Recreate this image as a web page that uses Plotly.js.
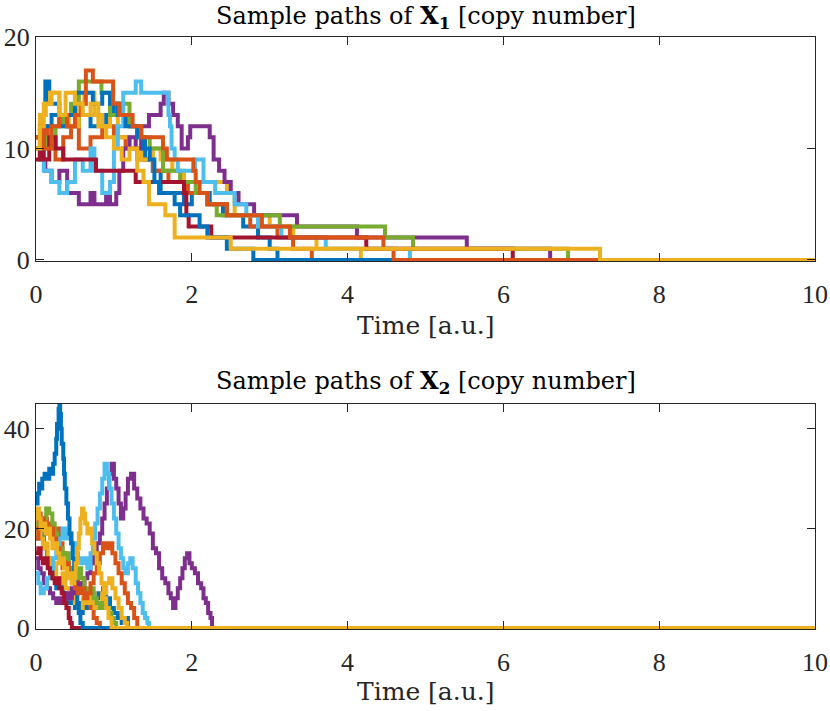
<!DOCTYPE html>
<html>
<head>
<meta charset="utf-8">
<script src="https://cdn.plot.ly/plotly-3.0.1.min.js"></script>
<style>html,body{margin:0;padding:0;background:#fff;}#chart{width:830px;height:711px;}</style>
</head>
<body>
<div id="chart"></div>
<script>
// MATLAB default colour order
const colorOrder = ['#0072BD','#D95319','#EDB120','#7E2F8E','#77AC30','#4DBEEE','#A2142F','#0072BD','#D95319','#EDB120'];

const xTicks = [0, 2, 4, 6, 8, 10];
const x1Ticks = [0, 10, 20];
const x2Ticks = [0, 20, 40];

// ---- Sample paths of X1: [time, copy number] step points ----
const x1_path1 = [[0,11],[0.06,13],[0.12,16],[0.17,14],[0.3,13],[0.4,12],[0.55,13],[0.7,12],[0.9,13],[1.0,14],[1.1,13],[1.2,12],[1.3,11],[1.4,9],[1.5,8],[1.6,6],[1.9,5],[2.0,6],[2.23,5],[2.4,4],[2.66,3],[2.85,2],[3.0,1],[3.1,0],[10,0]];
const x1_path2 = [[0,10],[0.08,12],[0.15,11],[0.25,9],[0.35,11],[0.45,12],[0.55,10],[0.7,11],[0.85,12],[1.0,11],[1.15,10],[1.3,9],[1.5,8],[1.7,7],[1.95,6],[2.2,5],[2.45,4],[2.75,3],[3.1,2],[3.3,1],[3.54,0],[10,0]];
const x1_path3 = [[0,10],[0.05,13],[0.12,14],[0.2,15],[0.3,13],[0.42,12],[0.55,14],[0.62,15],[0.75,13],[0.85,12],[0.95,13],[1.05,11],[1.2,10],[1.35,9],[1.5,10],[1.6,9],[1.75,8],[1.9,7],[2.2,7],[2.45,6],[2.55,4],[3.0,3],[3.3,2],[3.6,1],[4.17,0],[10,0]];
const x1_path4 = [[0,10],[0.05,9],[0.12,8],[0.2,7],[0.3,8],[0.4,6],[0.55,5],[0.7,6],[0.75,5],[0.9,6],[0.95,5],[1.03,6],[1.07,8],[1.12,10],[1.2,11],[1.28,10],[1.35,12],[1.45,13],[1.6,14],[1.64,15],[1.7,14],[1.76,13],[1.82,12],[1.87,10],[1.95,11],[1.98,12],[2.23,11],[2.28,9],[2.35,8],[2.42,7],[2.5,6],[2.6,5],[2.8,4],[3.35,3],[4.12,2],[5.53,1],[6.6,0],[10,0]];
const x1_path5 = [[0,10],[0.07,11],[0.15,10],[0.25,12],[0.35,13],[0.45,14],[0.55,16],[0.84,15],[0.95,13],[1.05,14],[1.2,12],[1.35,11],[1.46,10],[1.63,8],[1.85,7],[2.05,6],[2.2,5],[2.32,4],[3.13,3],[4.48,2],[4.84,1],[6.83,0],[10,0]];
const x1_path6 = [[0,10],[0.05,9],[0.1,8],[0.2,7],[0.3,6],[0.4,7],[0.5,9],[0.6,8],[0.7,10],[0.75,8],[0.85,6],[0.95,7],[1.0,10],[1.05,12],[1.12,15],[1.28,16],[1.35,15],[1.7,13],[1.72,12],[1.74,10],[1.78,9],[1.82,8],[2.04,9],[2.15,7],[2.3,6],[2.55,5],[2.7,4],[2.85,3],[3.15,2],[3.72,1],[4.8,0],[10,0]];
const x1_path7 = [[0,9],[0.05,10],[0.1,9],[0.17,11],[0.25,10],[0.35,9],[0.77,8],[1.28,7],[1.5,7],[1.9,6],[1.93,4],[1.96,3],[2.15,3],[2.25,2],[4.24,1],[6.12,0],[10,0]];
const x1_path8 = [[0,11],[0.05,10],[0.1,12],[0.2,13],[0.3,12],[0.4,13],[0.5,15],[0.73,14],[0.85,15],[0.95,14],[1.05,13],[1.15,12],[1.3,11],[1.38,10],[1.46,9],[1.52,7],[1.58,6],[1.78,5],[1.85,4],[2.1,3],[2.2,2],[2.45,1],[2.79,0],[10,0]];
const x1_path9 = [[0,11],[0.05,12],[0.1,10],[0.2,12],[0.3,13],[0.4,12],[0.5,13],[0.58,14],[0.64,17],[0.73,16],[0.99,14],[1.07,13],[1.24,12],[1.35,11],[1.63,10],[1.68,9],[2.02,8],[2.05,7],[2.1,6],[2.2,5],[2.45,4],[2.9,3],[3.26,2],[4.46,1],[4.59,0],[10,0]];
const x1_path10 = [[0,10],[0.05,12],[0.1,14],[0.18,15],[0.3,13],[0.38,15],[0.5,14],[0.6,13],[0.7,14],[0.8,12],[0.9,11],[1.0,10],[1.1,9],[1.2,10],[1.3,8],[1.38,7],[1.45,5],[1.66,4],[1.78,2],[2.5,1],[7.24,0],[10,0]];

// ---- Sample paths of X2: [time, copy number] step points ----
const x2_path1 = [[0,20],[0.03,18],[0.06,19],[0.1,16],[0.14,14],[0.18,12],[0.22,10],[0.26,8],[0.3,9],[0.35,7],[0.4,5],[0.45,6],[0.5,4],[0.55,3],[0.6,5],[0.65,4],[0.72,6],[0.8,7],[0.86,8],[0.9,6],[0.95,4],[1.0,3],[1.05,2],[1.1,1],[1.15,2],[1.18,0],[10,0]];
const x2_path2 = [[0,21],[0.03,23],[0.06,21],[0.1,22],[0.14,20],[0.18,21],[0.22,19],[0.26,20],[0.3,17],[0.34,15],[0.38,13],[0.42,11],[0.46,12],[0.5,10],[0.54,8],[0.58,9],[0.62,7],[0.66,5],[0.7,4],[0.74,2],[0.78,1],[0.82,0],[10,0]];
const x2_path3 = [[0,19],[0.03,21],[0.06,18],[0.09,16],[0.12,17],[0.15,14],[0.18,12],[0.22,13],[0.26,10],[0.3,9],[0.34,11],[0.38,8],[0.42,6],[0.46,7],[0.5,5],[0.55,4],[0.6,6],[0.65,5],[0.7,7],[0.75,4],[0.8,5],[0.85,7],[0.9,9],[0.94,10],[0.98,8],[1.02,6],[1.06,4],[1.1,2],[1.14,1],[1.17,0],[10,0]];
const x2_path4 = [[0,14],[0.03,12],[0.06,11],[0.1,9],[0.14,8],[0.18,7],[0.22,6],[0.26,5],[0.3,6],[0.34,5],[0.38,7],[0.42,6],[0.46,8],[0.5,7],[0.54,9],[0.58,8],[0.62,10],[0.66,11],[0.7,13],[0.74,15],[0.78,17],[0.82,19],[0.85,22],[0.88,25],[0.91,28],[0.94,31],[0.97,33],[1.0,30],[1.03,28],[1.06,25],[1.09,22],[1.12,24],[1.15,27],[1.18,30],[1.22,31],[1.26,28],[1.3,26],[1.34,24],[1.38,22],[1.42,21],[1.46,19],[1.5,16],[1.54,15],[1.58,12],[1.62,10],[1.66,9],[1.7,7],[1.73,6],[1.76,4],[1.79,6],[1.82,8],[1.85,10],[1.88,12],[1.91,14],[1.94,15],[1.97,13],[2.0,12],[2.04,11],[2.08,9],[2.12,8],[2.15,6],[2.18,5],[2.21,3],[2.24,2],[2.26,0],[10,0]];
const x2_path5 = [[0,20],[0.03,21],[0.06,20],[0.09,22],[0.13,24],[0.17,23],[0.21,21],[0.24,19],[0.27,17],[0.3,16],[0.34,14],[0.38,15],[0.42,12],[0.46,11],[0.5,10],[0.54,12],[0.58,10],[0.62,8],[0.66,7],[0.7,8],[0.74,6],[0.78,5],[0.82,4],[0.86,5],[0.9,4],[0.94,3],[0.97,2],[1.0,1],[1.03,0],[10,0]];
const x2_path6 = [[0,11],[0.03,9],[0.06,7],[0.1,8],[0.14,10],[0.18,12],[0.22,14],[0.26,16],[0.3,18],[0.34,20],[0.38,18],[0.42,19],[0.46,17],[0.5,15],[0.54,14],[0.58,13],[0.62,14],[0.66,12],[0.7,15],[0.73,18],[0.76,21],[0.79,24],[0.82,27],[0.85,30],[0.88,33],[0.91,31],[0.94,28],[0.97,25],[1.0,22],[1.03,19],[1.06,16],[1.09,14],[1.12,12],[1.15,11],[1.18,13],[1.21,14],[1.24,12],[1.28,9],[1.31,7],[1.34,5],[1.37,3],[1.4,2],[1.43,1],[1.45,0],[10,0]];
const x2_path7 = [[0,15],[0.03,16],[0.06,14],[0.09,13],[0.12,14],[0.15,12],[0.18,11],[0.21,10],[0.24,9],[0.27,10],[0.3,8],[0.33,7],[0.36,5],[0.39,4],[0.42,2],[0.44,1],[0.46,0],[10,0]];
const x2_path8 = [[0,25],[0.02,27],[0.04,29],[0.06,28],[0.08,30],[0.11,31],[0.14,30],[0.17,32],[0.2,31],[0.22,33],[0.24,35],[0.26,38],[0.27,41],[0.29,44],[0.3,45],[0.31,43],[0.32,40],[0.33,37],[0.35,34],[0.36,31],[0.37,28],[0.39,25],[0.41,22],[0.43,19],[0.45,17],[0.47,14],[0.49,11],[0.51,8],[0.53,5],[0.55,3],[0.57,1],[0.6,0],[10,0]];
const x2_path9 = [[0,18],[0.03,20],[0.06,22],[0.1,21],[0.14,19],[0.18,20],[0.22,18],[0.26,16],[0.3,14],[0.34,12],[0.38,13],[0.42,11],[0.46,9],[0.5,8],[0.54,7],[0.58,8],[0.62,6],[0.66,7],[0.7,9],[0.74,11],[0.78,13],[0.82,15],[0.86,17],[0.9,16],[0.94,17],[0.98,15],[1.02,13],[1.06,11],[1.1,9],[1.14,7],[1.18,5],[1.22,4],[1.26,2],[1.3,0],[10,0]];
const x2_path10 = [[0,22],[0.02,24],[0.04,22],[0.06,20],[0.09,21],[0.12,19],[0.15,20],[0.18,18],[0.21,16],[0.24,17],[0.27,15],[0.3,13],[0.33,14],[0.36,12],[0.4,10],[0.43,11],[0.46,9],[0.49,10],[0.51,13],[0.53,16],[0.55,19],[0.57,22],[0.59,24],[0.61,23],[0.63,21],[0.66,19],[0.69,20],[0.72,17],[0.75,15],[0.78,13],[0.81,11],[0.84,9],[0.87,6],[0.9,4],[0.93,2],[0.97,0],[10,0]];

const x1Paths = [x1_path1,x1_path2,x1_path3,x1_path4,x1_path5,x1_path6,x1_path7,x1_path8,x1_path9,x1_path10];
const x2Paths = [x2_path1,x2_path2,x2_path3,x2_path4,x2_path5,x2_path6,x2_path7,x2_path8,x2_path9,x2_path10];

const FONT = 'DejaVu Serif, Liberation Serif, serif';
const TICKFONT = 'Liberation Serif, DejaVu Serif, serif';
const AX = '#262626';
const LW = 4;

const traces = [];
x1Paths.forEach((p, i) => traces.push({
  type: 'scatter', mode: 'lines', x: p.map(d => d[0]), y: p.map(d => d[1]),
  xaxis: 'x', yaxis: 'y', line: {color: colorOrder[i], width: LW, shape: 'hv'}, showlegend: false, hoverinfo: 'skip'
}));
x2Paths.forEach((p, i) => traces.push({
  type: 'scatter', mode: 'lines', x: p.map(d => d[0]), y: p.map(d => d[1]),
  xaxis: 'x2', yaxis: 'y2', line: {color: colorOrder[i], width: LW, shape: 'hv'}, showlegend: false, hoverinfo: 'skip'
}));

function xAxis(anchor) {
  return {anchor: anchor, domain: [0, 1], range: [0, 10], tickvals: xTicks, ticktext: xTicks.map(String),
    ticks: 'inside', ticklen: 8, tickwidth: 1, tickcolor: AX, showline: true, linecolor: AX, linewidth: 1,
    mirror: 'ticks', showgrid: false, zeroline: false, tickfont: {family: TICKFONT, size: 26, color: '#262626'},
    ticklabelstandoff: 10};
}
function yAxis(anchor, range, ticks, domain) {
  return {anchor: anchor, domain: domain, range: range, tickvals: ticks, ticktext: ticks.map(String),
    ticks: 'inside', ticklen: 8, tickwidth: 1, tickcolor: AX, showline: true, linecolor: AX, linewidth: 1,
    mirror: 'ticks', showgrid: false, zeroline: false, tickfont: {family: TICKFONT, size: 26, color: '#262626'},
    ticklabelstandoff: 0};
}

const layout = {
  width: 830, height: 711,
  margin: {l: 36, r: 15, t: 37, b: 82},
  paper_bgcolor: '#fff', plot_bgcolor: '#fff',
  showlegend: false,
  xaxis: xAxis('y'),
  yaxis: yAxis('x', [-0.1, 20], x1Ticks, [0.6216, 1]),
  xaxis2: xAxis('y2'),
  yaxis2: yAxis('x2', [-0.2, 45], x2Ticks, [0, 0.3801]),
  annotations: [
    {xref: 'paper', yref: 'paper', x: 0.5, y: 1.034, xanchor: 'center', yanchor: 'middle', showarrow: false,
     text: 'Sample paths of <b>X<sub>1</sub></b> [copy number]', font: {family: FONT, size: 24, color: '#000'}},
    {xref: 'paper', yref: 'paper', x: 0.5, y: 0.417, xanchor: 'center', yanchor: 'middle', showarrow: false,
     text: 'Sample paths of <b>X<sub>2</sub></b> [copy number]', font: {family: FONT, size: 24, color: '#000'}},
    {xref: 'paper', yref: 'paper', x: 0.5, y: 0.5135, xanchor: 'center', yanchor: 'middle', showarrow: false,
     text: 'Time [a.u.]', font: {family: FONT, size: 25, color: '#262626'}},
    {xref: 'paper', yref: 'paper', x: 0.5, y: -0.1064, xanchor: 'center', yanchor: 'middle', showarrow: false,
     text: 'Time [a.u.]', font: {family: FONT, size: 25, color: '#262626'}}
  ]
};

Plotly.newPlot('chart', traces, layout, {displayModeBar: false, staticPlot: true});
</script>
</body>
</html>
